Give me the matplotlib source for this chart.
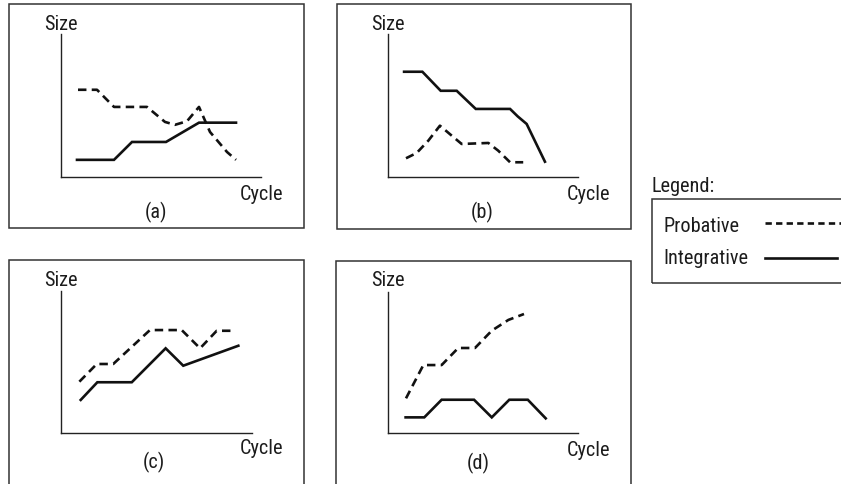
import matplotlib
matplotlib.use("Agg")
import matplotlib.pyplot as plt
from matplotlib.patches import Rectangle

W, H = 841, 485
plt.rcParams['font.family'] = ['Roboto Condensed', 'DejaVu Sans']

# ---- data (arbitrary units, axes run 0..10 on both scales) ----
a_prob_x = [0.85, 1.8, 2.65, 4.3, 5.2, 5.7, 6.3, 6.9, 7.45, 8.3, 8.75]
a_prob_y = [6.1, 6.1, 4.9, 4.9, 3.85, 3.65, 3.9, 4.9, 3.15, 1.75, 1.2]
a_int_x = [0.8, 2.65, 3.55, 5.25, 6.9, 8.75]
a_int_y = [1.2, 1.2, 2.45, 2.45, 3.8, 3.8]

b_prob_x = [0.96, 1.52, 2.13, 2.74, 3.36, 3.88, 5.28, 5.80, 6.42, 7.11]
b_prob_y = [1.31, 1.68, 2.54, 3.59, 2.89, 2.31, 2.38, 1.84, 1.03, 1.03]
b_int_x = [0.86, 1.82, 2.78, 3.62, 4.62, 6.42, 6.82, 7.29, 8.25]
b_int_y = [7.36, 7.36, 6.03, 6.03, 4.76, 4.76, 4.24, 3.71, 1.07]

c_prob_x = [0.96, 1.87, 2.73, 4.65, 6.31, 7.27, 8.14, 8.95]
c_prob_y = [3.62, 4.86, 4.86, 7.24, 7.24, 5.96, 7.19, 7.19]
c_int_x = [1.03, 1.90, 3.70, 5.47, 6.39, 9.27]
c_int_y = [2.34, 3.58, 3.58, 5.96, 4.74, 6.14]

d_prob_x = [0.96, 1.87, 2.83, 3.70, 4.58, 5.46, 6.33, 7.15]
d_prob_y = [2.48, 4.84, 4.84, 6.05, 6.05, 7.28, 8.04, 8.46]
d_int_x = [0.94, 1.92, 2.83, 4.53, 5.46, 6.38, 7.35, 8.29]
d_int_y = [1.13, 1.13, 2.38, 2.38, 1.13, 2.38, 2.38, 1.06]

panel_labels = ["(a)", "(b)", "(c)", "(d)"]
series_names = ["Probative", "Integrative"]
axis_x_label = "Cycle"
axis_y_label = "Size"

fig = plt.figure(figsize=(W / 100, H / 100), dpi=100)

def fx(px):
    return px / W

def fy(py):
    return 1 - py / H

panels = [
    dict(box=(9, 4.5, 304, 229), ax=(61, 178, 200, 143),
         size=(60.5, 30.5), cyc=(261.7, 200), lab=(156, 218),
         data=(a_prob_x, a_prob_y, a_int_x, a_int_y)),
    dict(box=(336.5, 4.5, 630.5, 229.5), ax=(387.7, 178, 190.6, 143),
         size=(388.3, 30.5), cyc=(588.7, 200), lab=(482.5, 218),
         data=(b_prob_x, b_prob_y, b_int_x, b_int_y)),
    dict(box=(8.5, 261, 304, 500), ax=(61, 434.3, 191.3, 142.6),
         size=(60.5, 286.5), cyc=(261.7, 454), lab=(154, 468),
         data=(c_prob_x, c_prob_y, c_int_x, c_int_y)),
    dict(box=(336, 261.5, 630.5, 500), ax=(387.7, 434.3, 190.6, 141),
         size=(388.3, 286.5), cyc=(588.7, 456.5), lab=(478, 469),
         data=(d_prob_x, d_prob_y, d_int_x, d_int_y)),
]

fs = 14.6
tc = '#1c1c1c'
for i, p in enumerate(panels):
    l, t, r, b = p['box']
    fig.patches.append(Rectangle((fx(l), fy(b)), fx(r) - fx(l), fy(t) - fy(b),
                                 transform=fig.transFigure, fill=False,
                                 edgecolor='#333333', linewidth=1.1))
    x0, y0, w, h = p['ax']
    ax = fig.add_axes([fx(x0), fy(y0), w / W, h / H])
    ax.set_xlim(0, 10)
    ax.set_ylim(0, 10)
    ax.set_xticks([])
    ax.set_yticks([])
    ax.patch.set_visible(False)
    for s in ['top', 'right']:
        ax.spines[s].set_visible(False)
    for s in ['left', 'bottom']:
        ax.spines[s].set_linewidth(1.0)
        ax.spines[s].set_color('#222222')
    px_, py_, ix_, iy_ = p['data']
    ax.plot(px_, py_, color='#111111', lw=1.9, linestyle=(0, (3.2, 2.0)),
            solid_joinstyle='miter', clip_on=False)
    ax.plot(ix_, iy_, color='#111111', lw=1.9, solid_joinstyle='miter',
            clip_on=False)
    fig.text(fx(p['size'][0]), fy(p['size'][1]), axis_y_label, ha='center',
             va='baseline', fontsize=fs, color=tc)
    fig.text(fx(p['cyc'][0]), fy(p['cyc'][1]), axis_x_label, ha='center',
             va='baseline', fontsize=fs, color=tc)
    fig.text(fx(p['lab'][0]), fy(p['lab'][1]), panel_labels[i], ha='center',
             va='baseline', fontsize=fs, color=tc)

# legend
fig.text(fx(651.5), fy(192.5), "Legend:", ha='left', va='baseline', fontsize=fs, color=tc)
fig.patches.append(Rectangle((fx(651.5), fy(284)), fx(860) - fx(651.5), fy(199.5) - fy(284),
                             transform=fig.transFigure, fill=False,
                             edgecolor='#333333', linewidth=1.1))
lax = fig.add_axes([0, 0, 1, 1])
lax.set_xlim(0, W)
lax.set_ylim(H, 0)
lax.axis('off')
lax.patch.set_visible(False)
fig.text(fx(663.5), fy(232.5), series_names[0], ha='left', va='baseline', fontsize=fs, color=tc)
fig.text(fx(663.5), fy(264.5), series_names[1], ha='left', va='baseline', fontsize=fs, color=tc)
lax.plot([765, 845], [223.5, 223.5], color='#111111', lw=1.9, linestyle=(0, (2.4, 1.6)))
lax.plot([765, 837], [259, 259], color='#111111', lw=1.9)

fig.savefig("out.png", dpi=100)
